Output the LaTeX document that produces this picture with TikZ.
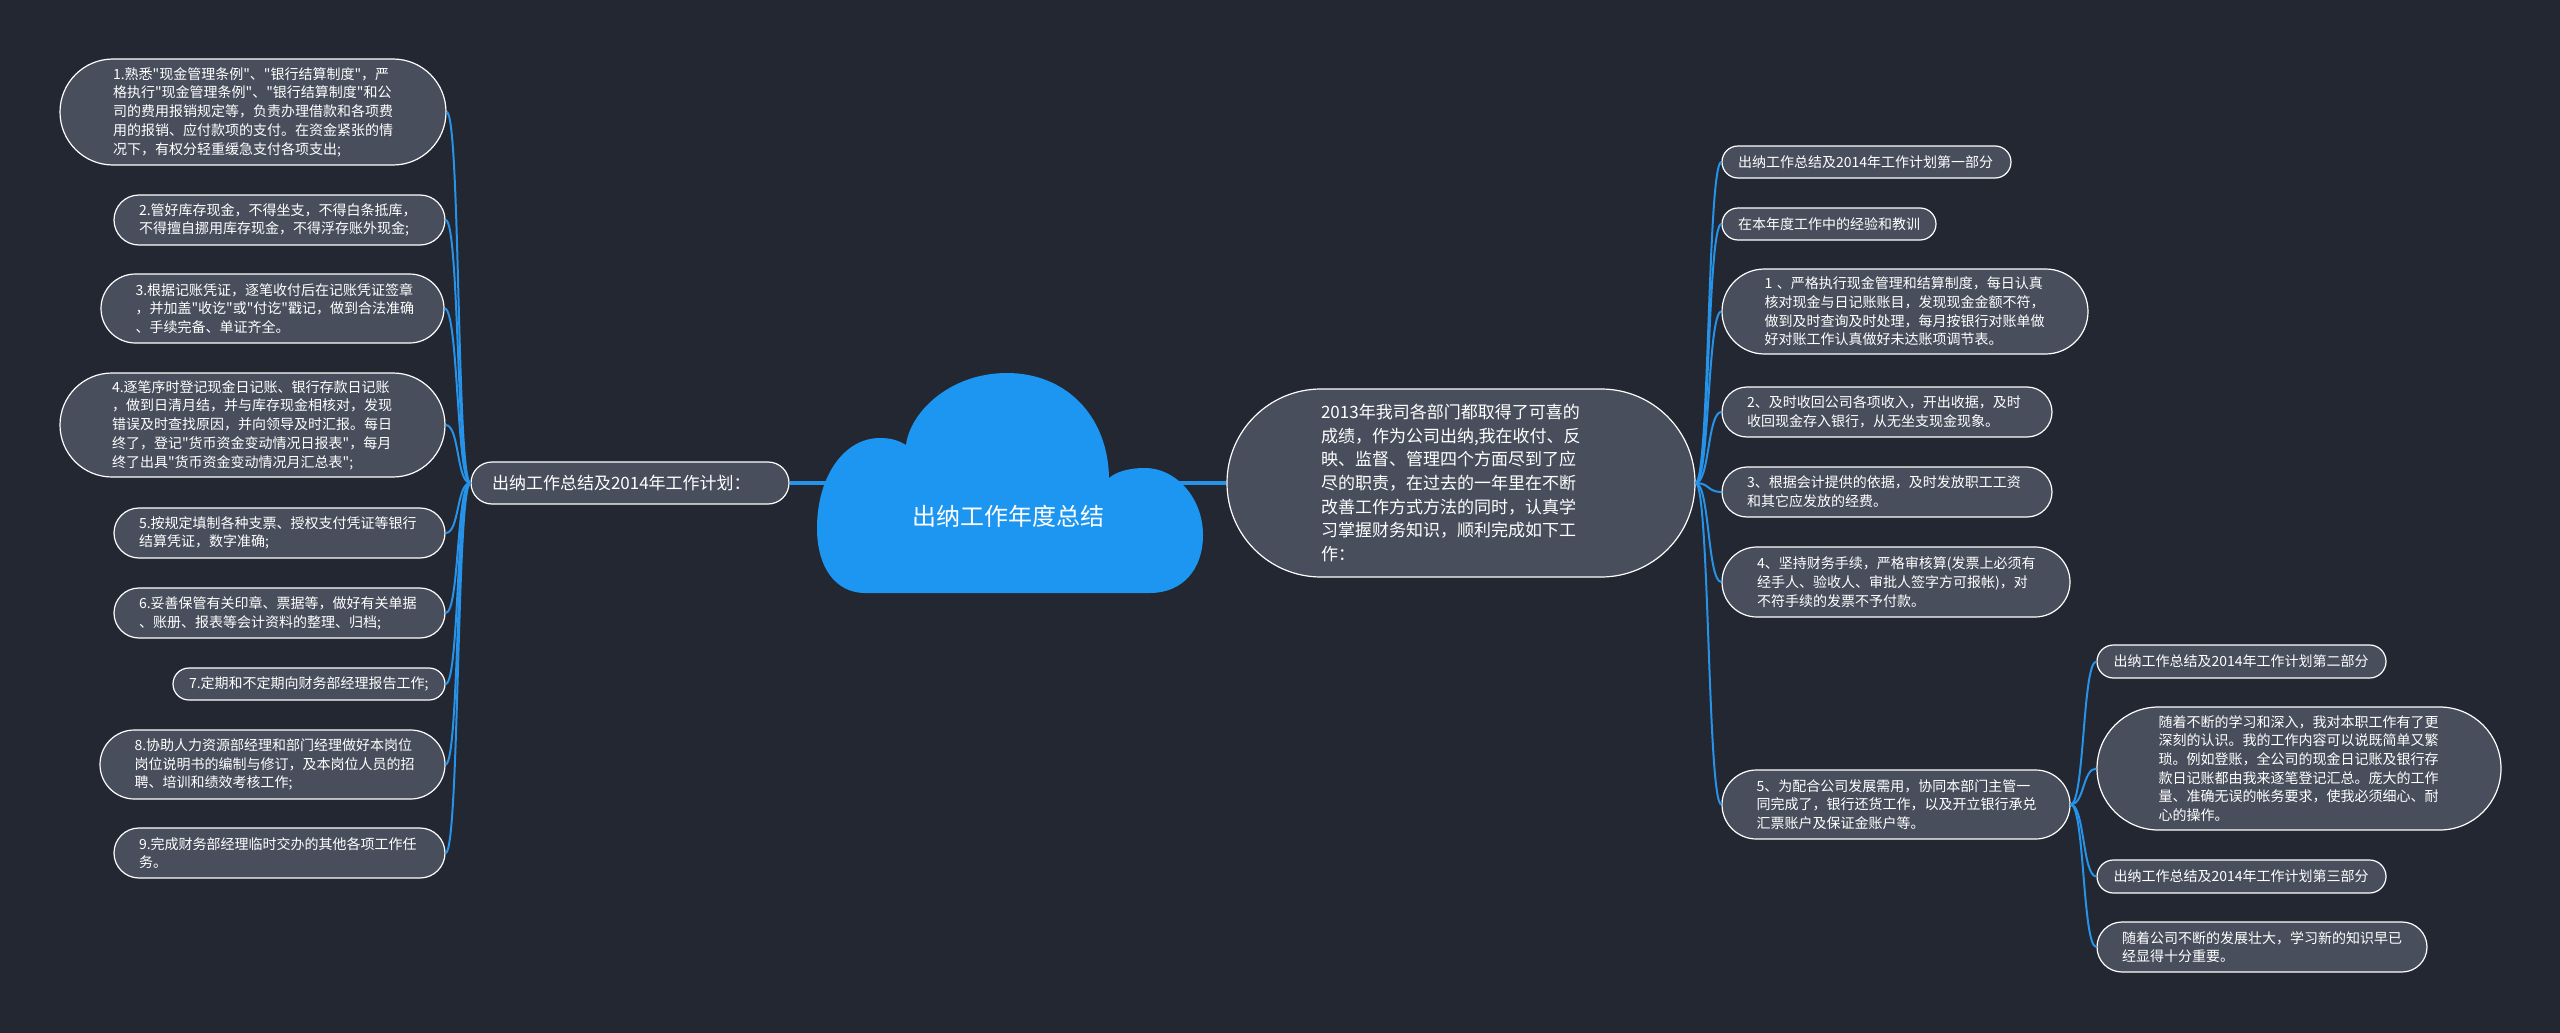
\documentclass[tikz,border=0pt]{standalone}
\usepackage{fontspec}
\newfontfamily\cjk{Noto Sans CJK SC}
\usepackage{xcolor}

\definecolor{bgdark}{RGB}{35,39,50}
\definecolor{pillfill}{RGB}{72,78,92}
\definecolor{linkblue}{RGB}{38,146,232}
\definecolor{cloudblue}{RGB}{28,150,240}

\tikzset{
  pill/.style 2 args={draw=white, line width=1.2pt, fill=pillfill, text=white, align=left,
    minimum height=#2, inner ysep=1pt, inner xsep={#2/2}, rounded corners={#2/2},
    text width={#1-#2}, font=\cjk\fontsize{14}{18.7}\selectfont},
  hubtext/.style={font=\cjk\fontsize{17}{23.7}\selectfont},
  branch/.style={draw=linkblue, line width=2pt},
  trunk/.style={draw=linkblue, line width=3.5pt},
}

\begin{document}
\begin{tikzpicture}[x=1pt,y=-1pt]

  \useasboundingbox (0,0) rectangle (2560,1033);
  \fill[bgdark] (0,0) rectangle (2560,1033);

  % left side
  \node[pill={318}{42}, hubtext] (lhub) at (630,483) {出纳工作总结及2014年工作计划：};

  \node[pill={386}{106}] (l1) at (253,112) {1.熟悉"现金管理条例"、"银行结算制度"，严\\格执行"现金管理条例"、"银行结算制度"和公\\司的费用报销规定等，负责办理借款和各项费\\用的报销、应付款项的支付。在资金紧张的情\\况下，有权分轻重缓急支付各项支出;};
  \node[pill={331}{50}] (l2) at (279.5,220) {2.管好库存现金，不得坐支，不得白条抵库，\\不得擅自挪用库存现金，不得浮存账外现金;};
  \node[pill={343}{69}] (l3) at (272.5,308.5) {3.根据记账凭证，逐笔收付后在记账凭证签章\\，并加盖"收讫"或"付讫"戳记，做到合法准确\\、手续完备、单证齐全。};
  \node[pill={385}{104}] (l4) at (252.5,425) {4.逐笔序时登记现金日记账、银行存款日记账\\，做到日清月结，并与库存现金相核对，发现\\错误及时查找原因，并向领导及时汇报。每日\\终了，登记"货币资金变动情况日报表"，每月\\终了出具"货币资金变动情况月汇总表";};
  \node[pill={331}{50}] (l5) at (279.5,533) {5.按规定填制各种支票、授权支付凭证等银行\\结算凭证，数字准确;};
  \node[pill={331}{50}] (l6) at (279.5,613) {6.妥善保管有关印章、票据等，做好有关单据\\、账册、报表等会计资料的整理、归档;};
  \node[pill={272}{32}] (l7) at (309,684) {7.定期和不定期向财务部经理报告工作;};
  \node[pill={345}{69}] (l8) at (272.5,764.5) {8.协助人力资源部经理和部门经理做好本岗位\\岗位说明书的编制与修订，及本岗位人员的招\\聘、培训和绩效考核工作;};
  \node[pill={331}{50}] (l9) at (279.5,853) {9.完成财务部经理临时交办的其他各项工作任\\务。};

  % right side
  \node[pill={468}{188}, hubtext] (rhub) at (1461,483) {2013年我司各部门都取得了可喜的\\成绩，作为公司出纳,我在收付、反\\映、监督、管理四个方面尽到了应\\尽的职责，在过去的一年里在不断\\改善工作方式方法的同时，认真学\\习掌握财务知识，顺利完成如下工\\作：};

  \node[pill={289}{32}] (r1) at (1866.5,162) {出纳工作总结及2014年工作计划第一部分};
  \node[pill={214}{32}] (r2) at (1829,224) {在本年度工作中的经验和教训};
  \node[pill={366}{85}] (r3) at (1905,311.5) {1 、严格执行现金管理和结算制度，每日认真\\核对现金与日记账账目，发现现金金额不符，\\做到及时查询及时处理，每月按银行对账单做\\好对账工作认真做好未达账项调节表。};
  \node[pill={330}{50}] (r4) at (1887,412) {2、及时收回公司各项收入，开出收据，及时\\收回现金存入银行，从无坐支现金现象。};
  \node[pill={330}{50}] (r5) at (1887,492) {3、根据会计提供的依据，及时发放职工工资\\和其它应发放的经费。};
  \node[pill={348}{70}] (r6) at (1896,582) {4、坚持财务手续，严格审核算(发票上必须有\\经手人、验收人、审批人签字方可报帐)，对\\不符手续的发票不予付款。};
  \node[pill={348}{69}] (r7) at (1896,804.5) {5、为配合公司发展需用，协同本部门主管一\\同完成了，银行还货工作，以及开立银行承兑\\汇票账户及保证金账户等。};

  \node[pill={289}{33}] (s1) at (2241.5,661.5) {出纳工作总结及2014年工作计划第二部分};
  \node[pill={404}{123}] (s2) at (2299,768.5) {随着不断的学习和深入，我对本职工作有了更\\深刻的认识。我的工作内容可以说既简单又繁\\琐。例如登账，全公司的现金日记账及银行存\\款日记账都由我来逐笔登记汇总。庞大的工作\\量、准确无误的帐务要求，使我必须细心、耐\\心的操作。};
  \node[pill={289}{33}] (s3) at (2241.5,876.5) {出纳工作总结及2014年工作计划第三部分};
  \node[pill={330}{50}] (s4) at (2262,947) {随着公司不断的发展壮大，学习新的知识早已\\经显得十分重要。};

  % connectors
  \draw[branch] (lhub.west) .. controls +(-14,0) and +(14,0) .. (l1.east);
  \draw[branch] (lhub.west) .. controls +(-14,0) and +(14,0) .. (l2.east);
  \draw[branch] (lhub.west) .. controls +(-14,0) and +(14,0) .. (l3.east);
  \draw[branch] (lhub.west) .. controls +(-14,0) and +(14,0) .. (l4.east);
  \draw[branch] (lhub.west) .. controls +(-14,0) and +(14,0) .. (l5.east);
  \draw[branch] (lhub.west) .. controls +(-14,0) and +(14,0) .. (l6.east);
  \draw[branch] (lhub.west) .. controls +(-14,0) and +(14,0) .. (l7.east);
  \draw[branch] (lhub.west) .. controls +(-14,0) and +(14,0) .. (l8.east);
  \draw[branch] (lhub.west) .. controls +(-14,0) and +(14,0) .. (l9.east);

  \draw[branch] (rhub.east) .. controls +(14,0) and +(-14,0) .. (r1.west);
  \draw[branch] (rhub.east) .. controls +(14,0) and +(-14,0) .. (r2.west);
  \draw[branch] (rhub.east) .. controls +(14,0) and +(-14,0) .. (r3.west);
  \draw[branch] (rhub.east) .. controls +(14,0) and +(-14,0) .. (r4.west);
  \draw[branch] (rhub.east) .. controls +(14,0) and +(-14,0) .. (r5.west);
  \draw[branch] (rhub.east) .. controls +(14,0) and +(-14,0) .. (r6.west);
  \draw[branch] (rhub.east) .. controls +(14,0) and +(-14,0) .. (r7.west);

  \draw[branch] (r7.east) .. controls +(14,0) and +(-14,0) .. (s1.west);
  \draw[branch] (r7.east) .. controls +(14,0) and +(-14,0) .. (s2.west);
  \draw[branch] (r7.east) .. controls +(14,0) and +(-14,0) .. (s3.west);
  \draw[branch] (r7.east) .. controls +(14,0) and +(-14,0) .. (s4.west);

  \coordinate (cloudL) at (860,483);
  \coordinate (cloudR) at (1160,483);
  \draw[trunk] (lhub.east) -- (cloudL);
  \draw[trunk] (cloudR) -- (rhub.west);

  % cloud
  \fill[cloudblue] (865,593) -- (1150,593)
    .. controls (1182,593) and (1203,570) .. (1203,535)
    .. controls (1203,498) and (1176,468) .. (1145,468)
    .. controls (1128,468) and (1116,472) .. (1109,478)
    .. controls (1108,415) and (1065,373) .. (1007,373)
    .. controls (950,373) and (910,412) .. (906,445)
    .. controls (898,440) and (890,438) .. (880,438)
    .. controls (843,438) and (817,478) .. (817,528)
    .. controls (817,568) and (836,593) .. (865,593) -- cycle;
  \node[font=\cjk\fontsize{24}{28}\selectfont, text=white] (title) at (1008,516) {出纳工作年度总结};

\end{tikzpicture}
\end{document}
